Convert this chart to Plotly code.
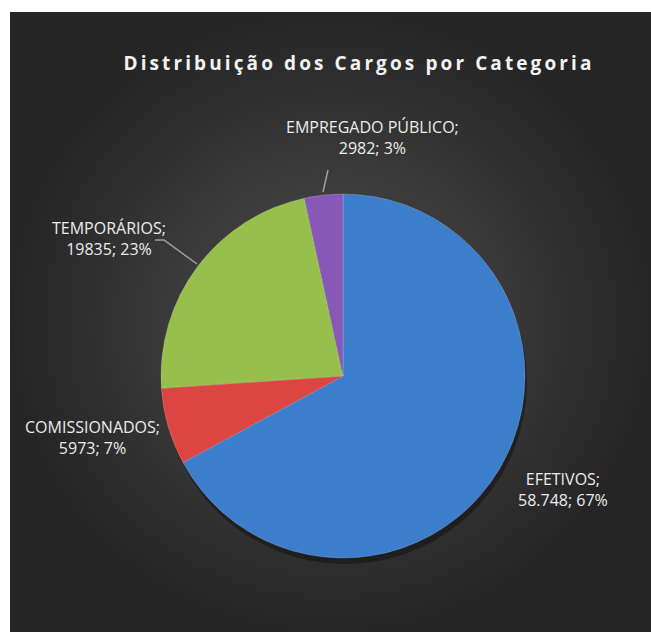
import plotly.graph_objects as go

W, H = 651, 632

categories = ["EFETIVOS", "COMISSIONADOS", "TEMPORÁRIOS", "EMPREGADO PÚBLICO"]
values = [58748, 5973, 19835, 2982]
value_text = ["58.748", "5973", "19835", "2982"]
colors = ["#3D7ECC", "#DC4541", "#97BF4B", "#8758B5"]
title_text = "Distribuição dos Cargos por Categoria"

total = sum(values)
percents = [round(v / total * 100) for v in values]


def px(x, y):
    return x / W, 1 - y / H


# pie placement (pixels)
cx, cy, r = 343, 376, 182

fig = go.Figure()

# background panel with radial gradient
x0, y0 = px(10, 12)
fig.add_trace(go.Scatter(
    x=[x0, 1, 1, x0, x0], y=[0, 0, y0, y0, 0],
    mode="lines", line=dict(width=0), fill="toself",
    fillgradient=dict(type="radial", colorscale=[[0, "#4c4c4c"], [0.55, "#383838"], [1, "#252525"]]),
    hoverinfo="skip", showlegend=False,
))

# shadow
fig.add_trace(go.Pie(
    values=values, labels=categories, sort=False, direction="clockwise", rotation=0,
    marker=dict(colors=["rgba(0,0,0,0.35)"] * 4, line=dict(width=0)),
    textinfo="none", hoverinfo="skip", showlegend=False,
    domain=dict(x=[(cx - r + 2) / W, (cx + r + 2) / W],
                y=[1 - (cy + r + 6) / H, 1 - (cy - r + 6) / H]),
))

fig.add_trace(go.Pie(
    values=values, labels=categories, sort=False, direction="clockwise", rotation=0,
    marker=dict(colors=colors, line=dict(width=1, color="rgba(255,255,255,0.18)")),
    textinfo="none", showlegend=False,
    domain=dict(x=[(cx - r) / W, (cx + r) / W], y=[1 - (cy + r) / H, 1 - (cy - r) / H]),
))

# labels
label_pos = [(563, 489), (92, 437), (109, 238), (372, 137)]
for cat, vt, pc, (lx, ly) in zip(categories, value_text, percents, label_pos):
    ax_, ay_ = px(lx, ly)
    fig.add_annotation(
        x=ax_, y=ay_, xref="paper", yref="paper", showarrow=False,
        text=f"{cat};<br>{vt}; {pc}%", align="center",
        xanchor="center", yanchor="middle",
        font=dict(family="Open Sans", size=16, color="#ececec"),
    )

# leader lines
def path(points):
    pts = [px(*p) for p in points]
    return "M " + " L ".join(f"{a},{b}" for a, b in pts)

for pts in [[(155, 240), (164, 240), (197, 264)], [(328, 170), (323, 192)]]:
    fig.add_shape(type="path", xref="paper", yref="paper", path=path(pts),
                  line=dict(color="#a0a0a0", width=1.5))

tx, ty = px(359, 63)
fig.update_layout(
    width=W, height=H, margin=dict(l=0, r=0, t=0, b=0),
    paper_bgcolor="white", plot_bgcolor="rgba(0,0,0,0)",
    xaxis=dict(range=[0, 1], domain=[0, 1], visible=False, fixedrange=True),
    yaxis=dict(range=[0, 1], domain=[0, 1], visible=False, fixedrange=True),
    title=dict(text=f'<span style="letter-spacing:3.1px"><b>{title_text}</b></span>',
               x=tx, y=ty, xanchor="center", yanchor="middle", xref="paper", yref="paper",
               font=dict(family="Open Sans", size=19, color="#f2f2f2")),
    showlegend=False,
)

fig.write_html("out.html")
